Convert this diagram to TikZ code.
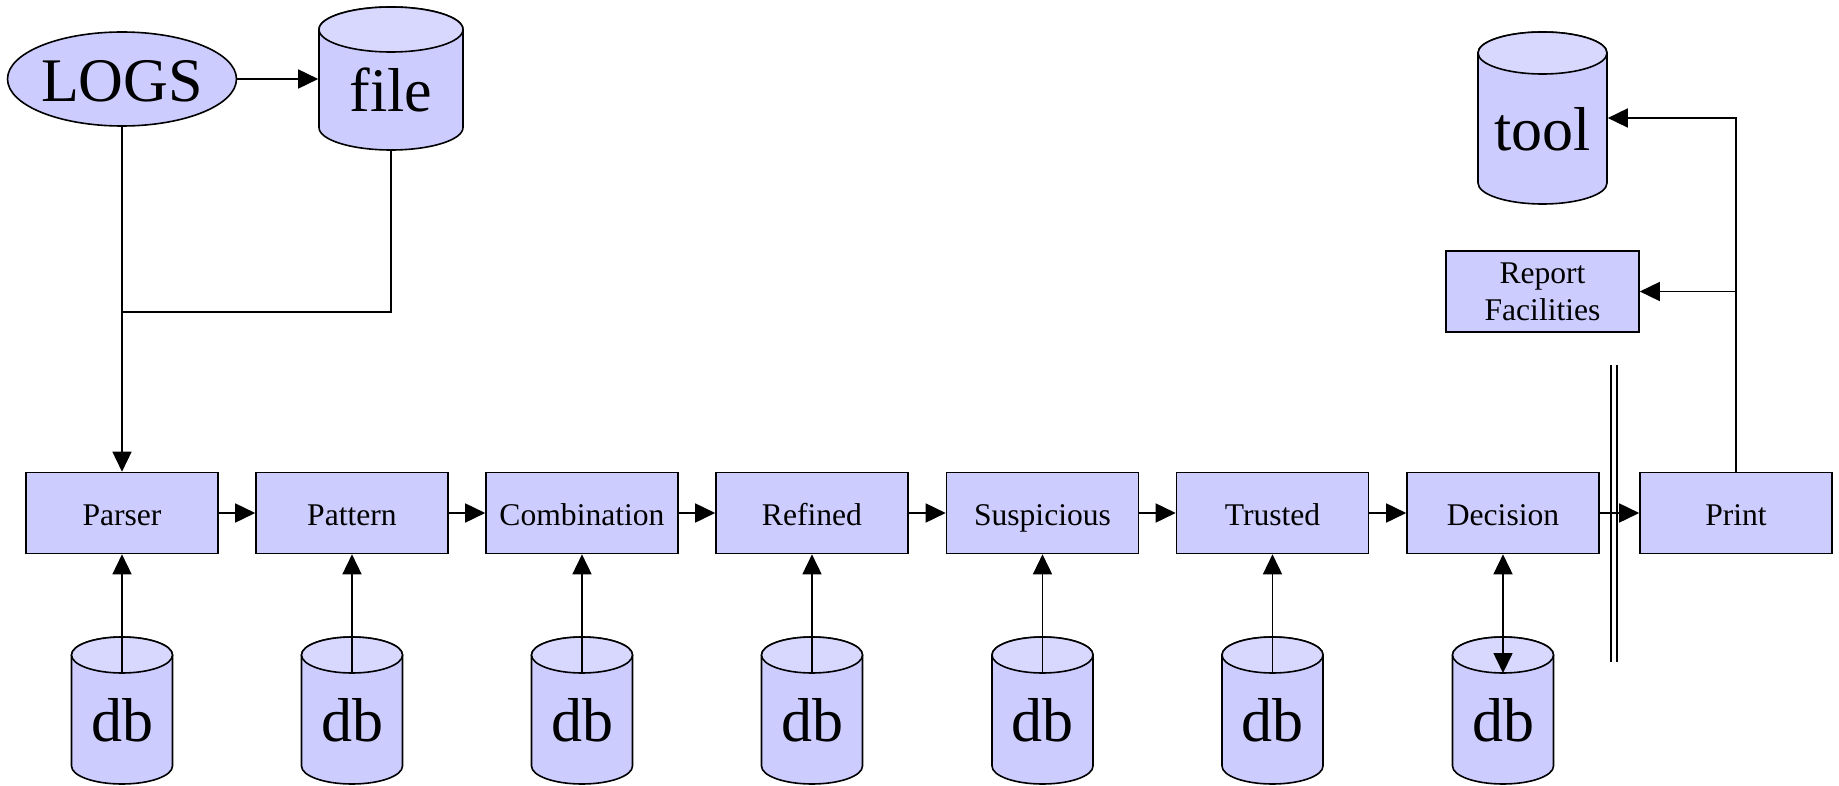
\documentclass[tikz,border=0pt]{standalone}
\usepackage{fontspec}
\setmainfont{Liberation Serif}
\usetikzlibrary{arrows.meta,shapes.geometric}
\definecolor{boxfill}{HTML}{CCCCFF}
\definecolor{topfill}{HTML}{D8D8FF}
\newcommand\mycyl[6]{% #1 name, #2 cx, #3 top, #4 bottom, #5 rx, #6 ry
  \draw[fill=boxfill] ({#2-#5},{#3+#6}) -- ({#2-#5},{#4-#6})
    arc[start angle=180,end angle=360,x radius=#5pt,y radius=#6pt]
    -- ({#2+#5},{#3+#6})
    arc[start angle=0,end angle=180,x radius=#5pt,y radius=#6pt] -- cycle;
  \draw[fill=topfill] (#2,{#3+#6}) ellipse[x radius=#5pt, y radius=#6pt];
  \node[inner sep=0pt, minimum width={2*#5pt}, minimum height={(#4-#3)*1pt}] (#1) at (#2,{(#3+#4)/2}) {};
  \coordinate (#1top) at (#2,{#3+2*#6});
}
\begin{document}
\begin{tikzpicture}[x=1pt,y=-1pt,line width=1.6pt,
  procbox/.style={draw, fill=boxfill, minimum width=192pt, minimum height=81pt,
    inner sep=0pt, text height=24pt, text depth=0pt, font=\fontsize{31.6}{37}\selectfont},
  bigtext/.style={inner sep=0pt, anchor=base, font=\fontsize{62}{70}\selectfont},
  arr/.style={-{Triangle[length=20pt,width=19pt]}},
  arrboth/.style={{Triangle[length=20pt,width=19pt]}-{Triangle[length=20pt,width=19pt]}}]
\useasboundingbox (0,0) rectangle (1839,786);

% top-left source
\node[ellipse, draw, fill=boxfill, minimum width=224pt, minimum height=94pt, inner sep=0pt,
  text height=46pt, text depth=0pt, font=\fontsize{62}{70}\selectfont] (logs) at (122,79) {LOGS};
\mycyl{file}{391}{7}{150}{72}{22.5}
\node[bigtext] (filetext) at (391,112) {file};

% tool and report
\mycyl{tool}{1542.5}{32}{204}{64.5}{21}
\node[bigtext] (tooltext) at (1542.5,151) {tool};
\node[draw, fill=boxfill, minimum width=193pt, minimum height=81pt, inner sep=0pt,
  align=center, font=\fontsize{31.6}{37}\selectfont] (report) at (1542.5,291.5) {Report\\Facilities};

% process boxes
\node[procbox] (parser) at (122,513) {Parser};
\node[procbox] (pattern) at (352,513) {Pattern};
\node[procbox] (combination) at (582,513) {Combination};
\node[procbox] (refined) at (812,513) {Refined};
\node[procbox] (suspicious) at (1042.5,513) {Suspicious};
\node[procbox] (trusted) at (1272.5,513) {Trusted};
\node[procbox] (decision) at (1503,513) {Decision};
\node[procbox] (print) at (1736,513) {Print};

% databases
\mycyl{dbA}{122}{637}{784}{50.5}{18}
\node[bigtext] (dbAtext) at (122,741) {db};
\mycyl{dbB}{352}{637}{784}{50.5}{18}
\node[bigtext] (dbBtext) at (352,741) {db};
\mycyl{dbC}{582}{637}{784}{50.5}{18}
\node[bigtext] (dbCtext) at (582,741) {db};
\mycyl{dbD}{812}{637}{784}{50.5}{18}
\node[bigtext] (dbDtext) at (812,741) {db};
\mycyl{dbE}{1042.5}{637}{784}{50.5}{18}
\node[bigtext] (dbEtext) at (1042.5,741) {db};
\mycyl{dbF}{1272.5}{637}{784}{50.5}{18}
\node[bigtext] (dbFtext) at (1272.5,741) {db};
\mycyl{dbG}{1503}{637}{784}{50.5}{18}
\node[bigtext] (dbGtext) at (1503,741) {db};

% connectors at the top
\draw[arr] (logs.east) -- (logs.east -| file.west);
\coordinate (junc) at (122,312);
\draw (file.south) |- (junc);
\draw[arr] (logs.south) -- (parser.north);

% pipeline
\draw[arr] (parser) -- (pattern);
\draw[arr] (pattern) -- (combination);
\draw[arr] (combination) -- (refined);
\draw[arr] (refined) -- (suspicious);
\draw[arr] (suspicious) -- (trusted);
\draw[arr] (trusted) -- (decision);
\draw[arr] (decision) -- (print);

% separator
\draw (1611,365) -- (1611,662);
\draw (1617,365) -- (1617,662);

% db links
\draw[arr] (dbAtop) -- (parser.south);
\draw[arr] (dbBtop) -- (pattern.south);
\draw[arr] (dbCtop) -- (combination.south);
\draw[arr] (dbDtop) -- (refined.south);
\draw[arr] (dbEtop) -- (suspicious.south);
\draw[arr] (dbFtop) -- (trusted.south);
\draw[arrboth] (decision.south) -- (dbGtop);

% print outputs
\draw[arr] (print.north) |- (tool.east);
\draw[arr] (print.north |- report.east) -- (report.east);
\end{tikzpicture}
\end{document}
